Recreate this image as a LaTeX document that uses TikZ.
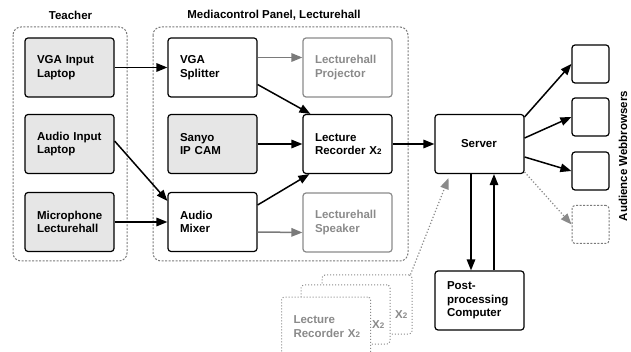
\documentclass[tikz,border=0pt]{standalone}
\usepackage{fontspec}
\setmainfont{Liberation Sans}
\usepackage{tikz}
\usetikzlibrary{arrows.meta}
\definecolor{boxgray}{HTML}{E6E6E6}
\definecolor{linegray}{HTML}{7A7A7A}
\definecolor{txtgray}{HTML}{8A8A8A}
\newcommand{\xtwo}{X{\fontsize{8}{8}\selectfont 2}}

\begin{document}
\begin{tikzpicture}[x=1pt,y=-1pt]
\tikzstyle{every node}+=[font=\fontsize{11.5}{13.5}\selectfont\bfseries]
\tikzstyle{blk}=[draw=black,line width=1.2pt,rounded corners=3pt,minimum height=59pt,text width=65pt,inner xsep=12pt,align=left]
\tikzstyle{grayblk}=[blk,fill=boxgray]
\tikzstyle{paleblk}=[blk,draw=txtgray,text=txtgray]
\tikzstyle{stackblk}=[blk,draw=txtgray,line width=1pt,dotted,fill=white,text=txtgray]
\tikzstyle{client}=[draw=black,line width=1.2pt,rounded corners=3pt,minimum width=37pt,minimum height=38pt,inner sep=0pt]
\tikzstyle{frame}=[draw=linegray,line width=1pt,dash pattern=on 2pt off 1.5pt,rounded corners=8pt]
\tikzstyle{arr}=[line width=1.5pt,-{Triangle[length=11pt,width=8.5pt]}]
\tikzstyle{grayarr}=[arr,linegray]
\tikzstyle{dotarr}=[arr,txtgray,line width=1.2pt,dotted]
\useasboundingbox (0,0) rectangle (631,352);
\draw[frame] (13,27) rectangle (127,261);
\draw[frame] (153,27) rectangle (408,261);
\node (teacher) at (70.5,15) {Teacher};
\node (panel) at (274,15) {Mediacontrol Panel, Lecturehall};
\node[grayblk] (vgain) at (69.5,67.5) {VGA Input\\Laptop};
\node[grayblk] (audioin) at (69.5,144) {Audio Input\\Laptop};
\node[grayblk] (micro) at (69.5,222) {Microphone\\Lecturehall};
\node[blk] (splitter) at (212.5,67.5) {VGA\\Splitter};
\node[grayblk] (cam) at (212.5,144) {Sanyo\\IP CAM};
\node[blk] (mixer) at (212.5,222) {Audio\\Mixer};
\node[paleblk] (projector) at (347.5,67.5) {Lecturehall\\Projector};
\node[blk] (recorder) at (347.5,144) {Lecture\\Recorder~\xtwo};
\node[paleblk] (speaker) at (347.5,222.5) {Lecturehall\\Speaker};
\node[blk] (server) at (479.5,144) {\hspace*{14pt}Server};
\node[blk] (post) at (479.5,300.5) {Post-\\processing\\Computer};
\node[client] (web1) at (590.5,64) {};
\node[client] (web2) at (590.5,117) {};
\node[client] (web3) at (590.5,171) {};
\node[client,draw=linegray,line width=1pt,dash pattern=on 2pt off 1.5pt] (web4) at (590.5,224.5) {};
\node[rotate=90] (audience) at (623,156) {Audience Webbrowsers};
\node[stackblk,minimum width=90pt,text width=66pt] (stack3) at (367,304.5) {};
\node[stackblk] (stack2) at (345.5,314.5) {};
\node[stackblk] (stack1) at (326,326.5) {Lecture\\Recorder~\xtwo};
\node[text=txtgray,anchor=east,inner sep=0pt] (x3) at ([xshift=-5pt,yshift=-10pt]stack3.east) {\xtwo};
\node[text=txtgray,anchor=east,inner sep=0pt] (x2) at ([xshift=-6pt,yshift=-10.5pt]stack2.east) {\xtwo};
\draw[arr] (vgain.east) -- (splitter.west);
\draw[arr] ([yshift=3pt]audioin.east) -- ([yshift=-9pt]mixer.north west);
\draw[arr] (micro.east) -- (mixer.west);
\draw[grayarr] ([yshift=10pt]splitter.east) -- ([yshift=10pt]projector.west);
\draw[arr] ([yshift=-17pt]splitter.east) -- ([xshift=8pt]recorder.north west);
\draw[arr] (cam.east) -- (recorder.west);
\draw[arr] ([yshift=17pt]mixer.east) -- ([xshift=7pt]recorder.south west);
\draw[grayarr] ([yshift=-10pt]mixer.east) -- ([yshift=-10pt]speaker.west);
\draw[arr] (recorder.east) -- (server.west);
\draw[arr] ([yshift=-3pt]server.north east) -- (web1.west);
\draw[arr] ([yshift=6pt]server.east) -- (web2.west);
\draw[arr] ([yshift=-13pt]server.east) -- (web3.west);
\draw[dotarr] ([yshift=2pt]server.south east) -- (web4.west);
\draw[arr] ([xshift=-8.5pt]server.south) -- ([xshift=-8.5pt]post.north);
\draw[arr] ([xshift=14.5pt]post.north) -- ([xshift=14.5pt]server.south);
\draw[dotarr] ([xshift=-2pt]stack3.north east) -- ([xshift=-31pt,yshift=-4pt]server.south);
\end{tikzpicture}
\end{document}
